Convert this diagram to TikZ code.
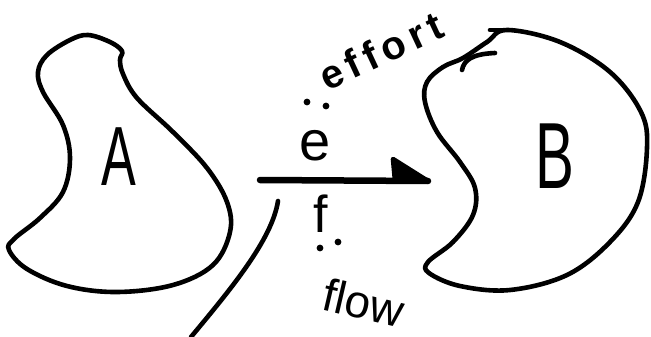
\documentclass[tikz,border=0pt]{standalone}
\usepackage{fontspec}
\setmainfont{Liberation Sans}
\begin{document}
\begin{tikzpicture}[x=1pt,y=-1pt,
  blob/.style={line width=4.6pt,line join=round,line cap=round},
  pen/.style={line width=4.6pt,line cap=round,line join=round},
  lbl/.style={inner sep=0pt,text=black},
  dotmark/.style={fill=black,radius=3.4pt}]
\useasboundingbox (0,0) rectangle (651,337);
% blob A
\draw[blob] plot[smooth cycle,tension=0.6] coordinates {
 (88,35) (110,42) (122,51) (120,60) (123,74) (137,98) (173,132) (207,168)
 (227,202) (230,232) (213,265) (173,285) (117,292) (67,286) (27,269)
 (9,250) (14,239) (40,218) (63,192) (70,158) (63,125) (43,92) (38,72)
 (47,55) (70,40)};
% blob B
\draw[blob] plot[smooth cycle,tension=0.6] coordinates {
 (507,30) (560,42) (610,72) (641,112) (647,148) (638,202) (610,242)
 (567,275) (510,290) (460,286) (429,273) (428,262) (453,242) (473,215)
 (475,188) (460,162) (437,132) (425,102) (427,82) (443,67) (463,58) (487,42)};
\draw[pen] (490,30) -- (507,30);
\draw[pen] (462,70) .. controls (464,60) and (472,54) .. (495,53);
% labels inside blobs
\node[lbl,xscale=0.62,transform shape,font=\fontsize{84}{84}\selectfont] (A) at (119,157) {A};
\node[lbl,xscale=0.62,transform shape,font=\fontsize{94}{94}\selectfont] (B) at (555,156) {B};
% arrow
\coordinate (s) at (260,180);
\coordinate (t) at (428,181);
\draw[line width=6.5pt,line cap=round] (s) -- (t);
\filldraw[pen] (t) -- (393,159) -- (395,181) -- cycle;
% e and f
\node[lbl,font=\fontsize{56}{56}\selectfont] (e) at (315,146) {e};
\node[lbl,font=\fontsize{52}{52}\selectfont] (f) at (321,214) {f};
\fill[dotmark] (307,102) circle;
\fill[dotmark] (326,106) circle;
\fill[dotmark] (320,248) circle;
\fill[dotmark] (338,242) circle;
% words
\node[lbl,rotate=25,font=\fontsize{40}{40}\selectfont\bfseries\addfontfeature{LetterSpace=15}] (effort) at (381,51) {effort};
\node[lbl,rotate=-13,font=\fontsize{46}{46}\selectfont] (flow) at (364,303) {flow};
% extra stroke
\coordinate (c1) at (278,201);
\coordinate (c2) at (191,337);
\draw[pen] (c1) .. controls (272,240) and (230,290) .. (c2);
\end{tikzpicture}
\end{document}
